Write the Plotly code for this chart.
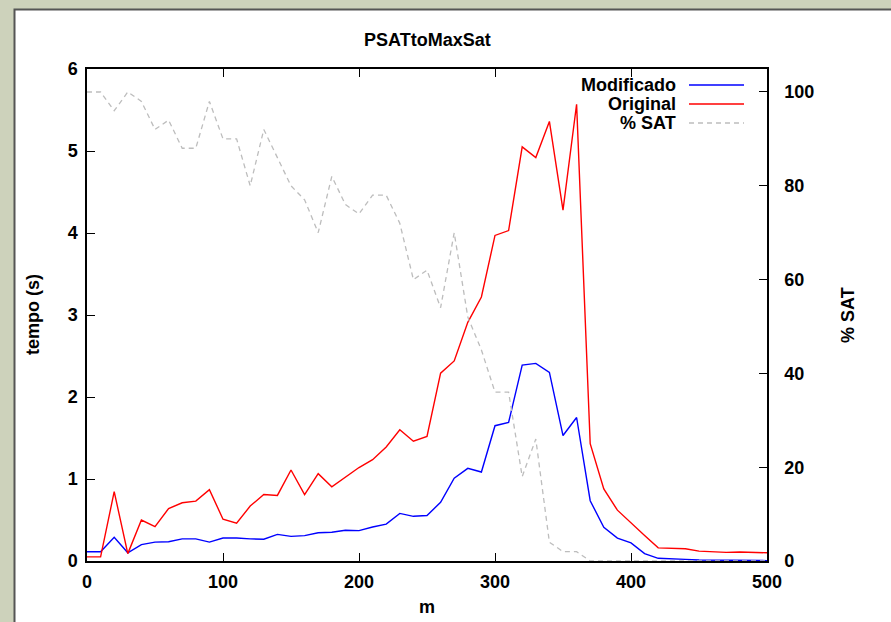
import plotly.graph_objects as go

m = list(range(0, 501, 10))

modificado = [0.113, 0.113, 0.29, 0.10, 0.20, 0.23, 0.235, 0.27, 0.27, 0.23,
              0.28, 0.28, 0.27, 0.265, 0.325, 0.30, 0.31, 0.345, 0.35, 0.375,
              0.37, 0.415, 0.45, 0.58, 0.545, 0.555, 0.715, 1.01, 1.13, 1.085,
              1.65, 1.69, 2.39, 2.41, 2.30, 1.53, 1.75, 0.735, 0.41, 0.28,
              0.22, 0.09, 0.033, 0.03, 0.02, 0.012, 0.01, 0.008, 0.007, 0.006,
              0.005]

original = [0.05, 0.05, 0.845, 0.09, 0.50, 0.42, 0.64, 0.71, 0.73, 0.87,
            0.51, 0.46, 0.67, 0.81, 0.80, 1.11, 0.81, 1.065, 0.905, 1.02,
            1.14, 1.235, 1.39, 1.60, 1.46, 1.52, 2.29, 2.44, 2.91, 3.22,
            3.97, 4.03, 5.05, 4.92, 5.36, 4.28, 5.57, 1.43, 0.88, 0.62,
            0.46, 0.31, 0.16, 0.155, 0.15, 0.12, 0.11, 0.105, 0.11, 0.105,
            0.10]

pct_sat = [100, 100, 96, 100, 98, 92, 94, 88, 88, 98,
           90, 90, 80, 92, 86, 80, 77, 70, 82, 76,
           74, 78, 78, 72, 60, 62, 54, 70, 52, 45,
           36, 36, 18, 26, 4, 2, 2, 0, 0, 0,
           0, 0, 0, 0, 0, 0, 0, 0, 0, 0,
           0]

x_ticks = [0, 100, 200, 300, 400, 500]
y_ticks = [0, 1, 2, 3, 4, 5, 6]
y2_ticks = [0, 20, 40, 60, 80, 100]

series_names = ["Modificado", "Original", "% SAT"]

FONT = "Liberation Sans"
W, H = 891, 622
L, R, T, B = 87, 124, 69, 61
PW, PH = W - L - R, H - T - B


def px(xp):
    return (xp - L) / PW


def py(yp):
    return (H - B - yp) / PH


fig = go.Figure()
fig.add_trace(go.Scatter(x=m, y=modificado, mode="lines", name=series_names[0],
                         line=dict(color="#0000ff", width=1.4)))
fig.add_trace(go.Scatter(x=m, y=original, mode="lines", name=series_names[1],
                         line=dict(color="#ff0000", width=1.4)))
fig.add_trace(go.Scatter(x=m, y=pct_sat, mode="lines", name=series_names[2], yaxis="y2",
                         line=dict(color="#bdbdbd", width=1.3, dash="5px,4px")))

tickfont = dict(family=FONT, size=18, color="black", weight="bold")

fig.update_layout(
    width=W, height=H, autosize=False,
    margin=dict(l=L, r=R, t=T, b=B),
    paper_bgcolor="#cdd2bb",
    plot_bgcolor="white",
    showlegend=False,
    xaxis=dict(range=[0, 500], tickvals=x_ticks, ticks="inside", ticklen=8,
               tickwidth=1.3, tickcolor="black", showline=True, linecolor="black",
               linewidth=1.5, mirror="ticks", showgrid=False, zeroline=False,
               tickfont=tickfont, ticklabelstandoff=4),
    yaxis=dict(range=[0, 6], tickvals=y_ticks, ticks="inside", ticklen=8,
               tickwidth=1.3, tickcolor="black", showline=True, linecolor="black",
               linewidth=1.5, mirror=True, showgrid=False, zeroline=False,
               tickfont=tickfont, ticklabelstandoff=4),
    yaxis2=dict(range=[0, 104.9], tickvals=y2_ticks, ticks="inside", ticklen=8,
                tickwidth=1.3, tickcolor="black", overlaying="y", side="right",
                showline=True, linecolor="black", linewidth=1.5, showgrid=False,
                zeroline=False, tickfont=tickfont, ticklabelstandoff=12),
)

# white panel with dark border
fig.add_shape(type="rect", xref="paper", yref="paper",
              x0=px(14.5), x1=px(W + 20), y0=py(H + 20), y1=py(9.5),
              fillcolor="white", line=dict(color="#555555", width=2), layer="below")

annfont = dict(family=FONT, size=18, color="black", weight="bold")
fig.add_annotation(text="PSATtoMaxSat", xref="paper", yref="paper", x=0.5, y=py(40),
                   showarrow=False, font=annfont, xanchor="center", yanchor="middle")
fig.add_annotation(text="tempo (s)", xref="paper", yref="paper", x=px(33), y=py(315),
                   showarrow=False, font=annfont, textangle=-90,
                   xanchor="center", yanchor="middle")
fig.add_annotation(text="m", xref="paper", yref="paper", x=0.5, y=py(607),
                   showarrow=False, font=annfont, xanchor="center", yanchor="middle")
fig.add_annotation(text="% SAT", xref="paper", yref="paper", x=px(848), y=py(315),
                   showarrow=False, font=annfont, textangle=-90,
                   xanchor="center", yanchor="middle")

# gnuplot-style key: text right-aligned, sample line to the right
key_styles = [dict(color="#0000ff", width=1.4),
              dict(color="#ff0000", width=1.4),
              dict(color="#bdbdbd", width=1.3, dash="5px,4px")]
for i, (name, st) in enumerate(zip(series_names, key_styles)):
    yk = 85 + 19 * i
    fig.add_annotation(text=name, xref="paper", yref="paper", x=px(678), y=py(yk),
                       showarrow=False, font=annfont, xanchor="right", yanchor="middle")
    fig.add_shape(type="line", xref="paper", yref="paper",
                  x0=px(689), x1=px(744), y0=py(yk), y1=py(yk), line=st)

fig.write_html("out.html")
